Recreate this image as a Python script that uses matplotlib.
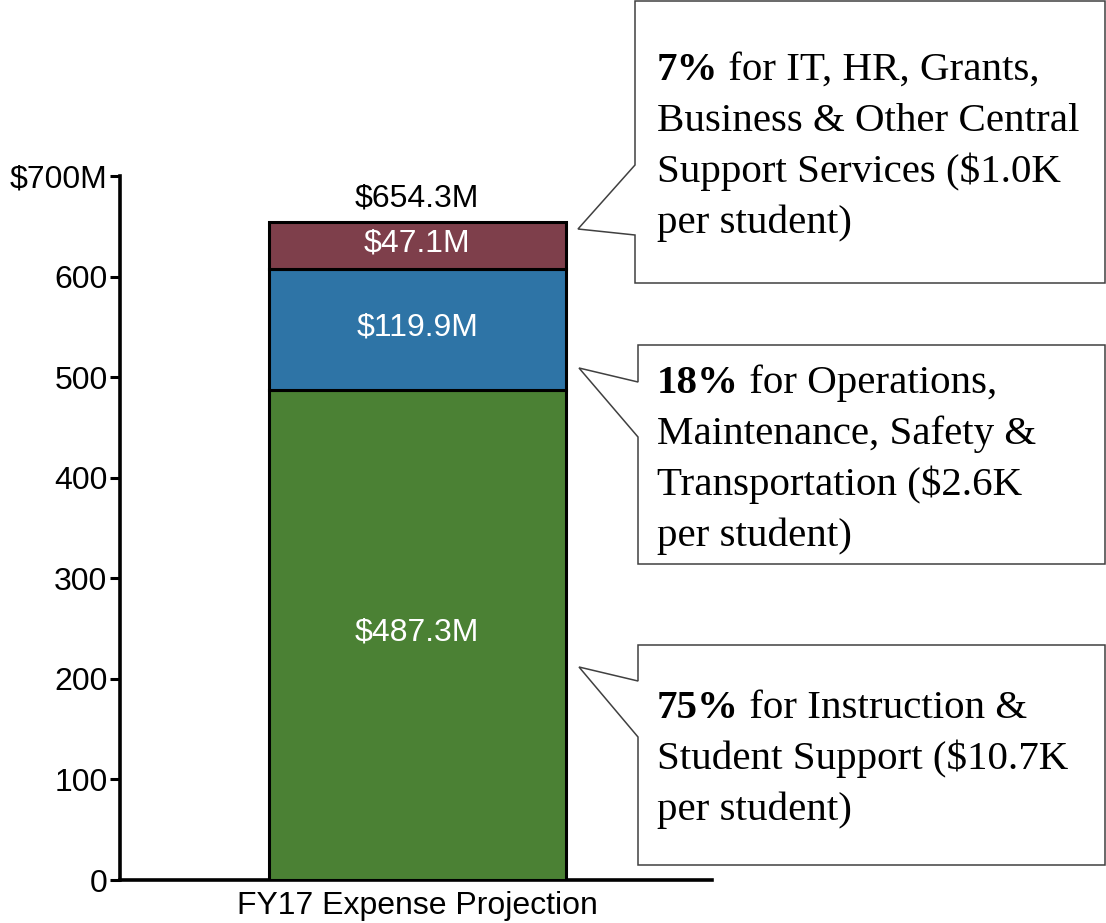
import matplotlib
matplotlib.use("Agg")
import matplotlib.pyplot as plt
from matplotlib.patches import Polygon

# ---------------- data ----------------
category = ["FY17 Expense Projection"]
segment_names = ["Instruction & Student Support",
                 "Operations, Maintenance, Safety & Transportation",
                 "IT, HR, Grants, Business & Other Central Support Services"]
segment_values = [487.3, 119.9, 47.1]          # $M
segment_labels = ["$487.3M", "$119.9M", "$47.1M"]
total_label = "$654.3M"
segment_colors = ["#4b8134", "#2e74a6", "#7e3f4b"]
yticks = [0, 100, 200, 300, 400, 500, 600, 700]
ytick_labels = ["0", "100", "200", "300", "400", "500", "600", "$700M"]

callout_bold = ["75%", "18%", "7%"]
callout_lines = [
    [" for Instruction &", "Student Support ($10.7K", "per student)"],
    [" for Operations,", "Maintenance, Safety &", "Transportation ($2.6K", "per student)"],
    [" for IT, HR, Grants,", "Business & Other Central", "Support Services ($1.0K", "per student)"],
]

# ---------------- figure ----------------
W, H = 1106, 923
fig = plt.figure(figsize=(W / 100, H / 100), dpi=100)
sans = ["Liberation Sans", "DejaVu Sans"]
serif = ["Liberation Serif", "DejaVu Serif"]
SFS = 23
CFS = 29.5

def fx(x):
    return x / W

def fy(y):
    return 1 - y / H

ax = fig.add_axes([fx(120), fy(880), fx(712) - fx(120), fy(176) - fy(880)])
ax.set_ylim(0, 700)
ax.set_xlim(-0.5, 0.5)
xc = 0.002

bottom = 0
for val, col, lab in zip(segment_values, segment_colors, segment_labels):
    ax.bar(xc, val, width=0.502, bottom=bottom, color=col,
           edgecolor="black", linewidth=2.2, zorder=3)
    ax.text(xc, bottom + val / 2 + 2, lab, ha="center", va="center",
            color="white", fontsize=SFS, family=sans, zorder=4)
    bottom += val
ax.text(xc, bottom + 23, total_label, ha="center", va="center",
        color="black", fontsize=SFS, family=sans)

for s in ["top", "right"]:
    ax.spines[s].set_visible(False)
ax.spines["left"].set_linewidth(2.6)
ax.spines["bottom"].set_linewidth(2.6)
ax.set_yticks(yticks)
ax.set_yticklabels(ytick_labels, fontsize=SFS, family=sans)
ax.tick_params(axis="y", length=7, width=2.2, pad=2)
ax.set_xticks([xc])
ax.set_xticklabels(category, fontsize=SFS, family=sans)
ax.tick_params(axis="x", length=0, pad=8)

# ---------------- callouts ----------------
# (box left, top, right, bottom, tip x, tip y, base upper y, base lower y, first baseline)
boxes = [
    (638, 645, 1105, 865, 579, 667, 681, 737, 718),
    (638, 345, 1105, 564, 579, 368, 382, 437, 393),
    (635, 1, 1105, 283, 578, 229, 165, 235, 80),
]
line_step = 51
for (l, t, r, b, tx, ty, bu, bl, base), bold, lines in zip(boxes, callout_bold, callout_lines):
    pts = [(l, t), (r, t), (r, b), (l, b), (l, bl), (tx, ty), (l, bu)]
    poly = Polygon([(fx(x), fy(y)) for x, y in pts], closed=True,
                   transform=fig.transFigure, facecolor="white",
                   edgecolor="#404040", linewidth=1.1, zorder=5)
    fig.add_artist(poly)
    x0 = 657
    tb = fig.text(fx(x0), fy(base), bold, fontsize=CFS, family=serif,
                  fontweight="bold", va="baseline", ha="left", zorder=6)
    fig.add_artist(plt.Annotation(lines[0], xy=(1, 0), xycoords=tb,
                                  va="bottom", ha="left", fontsize=CFS,
                                  family=serif, zorder=6))
    for i, ln in enumerate(lines[1:], start=1):
        fig.text(fx(x0), fy(base + i * line_step), ln, fontsize=CFS,
                 family=serif, va="baseline", ha="left", zorder=6)

fig.savefig("out.png", dpi=100)
